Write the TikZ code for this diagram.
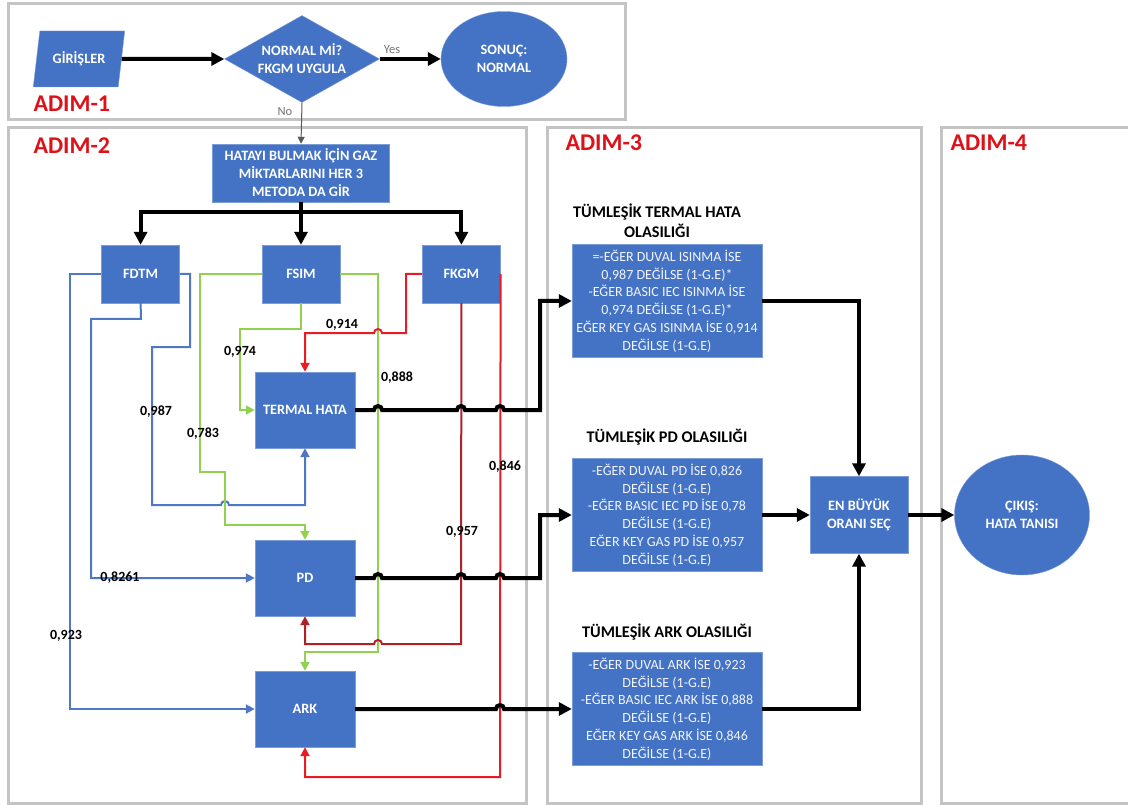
\documentclass[tikz,border=0pt]{standalone}
\usepackage{fontspec}
\setmainfont{Carlito}
\usepackage{tikz}
\usetikzlibrary{shapes.geometric,arrows.meta,positioning,calc}
\definecolor{officeblue}{RGB}{68,114,196}
\definecolor{wireblue}{RGB}{79,120,196}
\definecolor{wiregreen}{RGB}{146,208,80}
\definecolor{wirered}{RGB}{232,28,36}
\definecolor{wiremaroon}{RGB}{178,32,40}
\definecolor{panelgray}{RGB}{196,196,196}
\definecolor{adimred}{RGB}{222,16,24}
\tikzset{
  fbox/.style={draw=officeblue!70!white,fill=officeblue,text=white,align=center,
               font=\fontsize{14.3}{18}\selectfont\bfseries,inner sep=0pt},
  dbox/.style={draw=officeblue!70!white,fill=officeblue,text=white!93!officeblue,align=center,
               font=\fontsize{14}{17.8}\selectfont,inner sep=0pt,
               minimum width=190pt,minimum height=113pt},
  ttl/.style={align=center,font=\fontsize{16.3}{20}\selectfont\bfseries},
  adim/.style={text=adimred,anchor=west,font=\fontsize{24}{27}\selectfont\bfseries},
  val/.style={font=\fontsize{14}{16}\selectfont\bfseries,inner sep=1pt},
  yn/.style={text=black!55,font=\fontsize{12.5}{14}\selectfont},
  panel/.style={draw=panelgray,line width=3pt},
  arr/.style={-{Triangle[length=13pt,width=13pt]},line width=4pt},
  wire/.style={-{Triangle[length=9pt,width=9pt]},line width=2pt},
}

\begin{document}
\begin{tikzpicture}[x=1pt,y=-1pt]
  \useasboundingbox (0,0) rectangle (1128,805);
  % panels
  \draw[panel] (8,4) rectangle (625,120);
  \draw[panel] (8,128) rectangle (526,803);
  \draw[panel] (547,128) rectangle (921,803);
  \draw[panel] (941,128) rectangle (1140,803);
  \node[adim] (adim1) at (30,104) {ADIM-1};
  \node[adim] (adim2) at (30,146) {ADIM-2};
  \node[adim] (adim3) at (562,143) {ADIM-3};
  \node[adim] (adim4) at (947,143) {ADIM-4};

  % ADIM-1
  \node[fbox,trapezium,trapezium left angle=73,trapezium right angle=107,
        trapezium stretches=true,minimum width=92pt,minimum height=56pt] (gir) at (79,59) {GİRİŞLER};
  \node[fbox,diamond,aspect=1.8,minimum width=155pt,minimum height=87pt] (normal) at (302,59)
        {NORMAL Mİ?\\FKGM UYGULA};
  \node[fbox,ellipse,minimum width=126pt,minimum height=95pt] (sonuc) at (504,59)
        {SONUÇ:\\NORMAL};
  \node[yn] (yes) at (392,50) {Yes};
  \node[yn] (no) at (285,112) {No};
  \draw[arr] (gir.east) -- (normal.west);
  \draw[arr] (normal.east) -- (sonuc.west);

  % ADIM-2
  \node[fbox,minimum width=177pt,minimum height=58pt] (hatayi) at (301,173)
        {HATAYI BULMAK İÇİN GAZ\\MİKTARLARINI HER 3\\METODA DA GİR};
  \draw[-{Triangle[length=7pt,width=7pt]},line width=1pt,black!65] (normal.south) -- (hatayi.north);
  \node[fbox,minimum width=78pt,minimum height=58pt] (fsim) at (301,274) {FSIM};
  \node[fbox,minimum width=78pt,minimum height=58pt,left=82pt of fsim] (fdtm) {FDTM};
  \node[fbox,minimum width=78pt,minimum height=58pt,right=82pt of fsim] (fkgm) {FKGM};
  \coordinate (bus) at (301,212);
  \draw[arr] (hatayi.south) -- (fsim.north);
  \draw[arr] (bus) -| (fdtm.north);
  \draw[arr] (bus) -| (fkgm.north);

  \node[fbox,minimum width=100pt,minimum height=76pt] (termal) at (305,410) {TERMAL HATA};
  \node[fbox,minimum width=100pt,minimum height=76pt] (pd) at (305,578) {PD};
  \node[fbox,minimum width=100pt,minimum height=76pt] (ark) at (305,709) {ARK};

  % FDTM
  \draw[wire,wireblue] (fdtm.west) -| (70,709) -- (ark.west);
  \draw[wire,wireblue] (fdtm.south) -- (141,319) -| (91,578) -- (pd.west);
  \draw[wire,wireblue] (fdtm.east) -| (190,347) -| (152,505) -- (221,505)
        arc[start angle=180,end angle=0,radius=4pt] -| (termal.south);
  % FSIM
  \draw[wire,wiregreen] (fsim.west) -| (200,472) -| (225,525) -| (pd.north);
  \draw[wire,wiregreen] (fsim.south) -- (301,329) -| (240,410) -- (termal.west);
  \draw[wire,wiregreen] (fsim.east) -| (378,652) -| (ark.north);
  % FKGM
  \draw[wire,wirered] (fkgm.west) -| (406,333) -- (382,333)
        arc[start angle=0,end angle=180,radius=4pt] -| (termal.north);
  \draw[wire,wiremaroon] (fkgm.south) -- (461,644) -- (382,644)
        arc[start angle=0,end angle=180,radius=4pt] -| (pd.south);
  \draw[wire,wirered] (fkgm.east) -- (500,777) -| (ark.south);

  \node[val] (v987) at (156,412) {0,987};
  \node[val] (v8261) at (120,578) {0,8261};
  \node[val] (v923) at (66,636) {0,923};
  \node[val] (v974) at (240,352) {0,974};
  \node[val] (v783) at (203,434) {0,783};
  \node[val] (v888) at (397,378) {0,888};
  \node[val] (v914) at (342,325) {0,914};
  \node[val] (v957) at (462,532) {0,957};
  \node[val] (v846) at (505,467) {0,846};

  % ADIM-3
  \node[ttl] (t1) at (657,221) {TÜMLEŞİK TERMAL HATA\\OLASILIĞI};
  \node[dbox] (box1) at (667,301) {=-EĞER DUVAL ISINMA İSE\\0,987 DEĞİLSE (1-G.E)*\\
        -EĞER BASIC IEC ISINMA İSE\\0,974 DEĞİLSE (1-G.E)*\\
        EĞER KEY GAS ISINMA İSE 0,914\\DEĞİLSE (1-G.E)};
  \node[ttl] (t2) at (667,437) {TÜMLEŞİK PD OLASILIĞI};
  \node[dbox] (box2) at (667,515) {-EĞER DUVAL PD İSE 0,826\\DEĞİLSE (1-G.E)\\
        -EĞER BASIC IEC PD İSE 0,78\\DEĞİLSE (1-G.E)\\
        EĞER KEY GAS PD İSE 0,957\\DEĞİLSE (1-G.E)};
  \node[ttl] (t3) at (667,632) {TÜMLEŞİK ARK OLASILIĞI};
  \node[dbox] (box3) at (667,709) {-EĞER DUVAL ARK İSE 0,923\\DEĞİLSE (1-G.E)\\
        -EĞER BASIC IEC ARK İSE 0,888\\DEĞİLSE (1-G.E)\\
        EĞER KEY GAS ARK İSE 0,846\\DEĞİLSE (1-G.E)};

  \draw[arr] (termal.east) -- (374,410) arc[start angle=180,end angle=0,radius=4pt]
        -- (457,410) arc[start angle=180,end angle=0,radius=4pt]
        -- (496,410) arc[start angle=180,end angle=0,radius=4pt]
        -- (540,410) |- (box1.west);
  \draw[arr] (pd.east) -- (374,578) arc[start angle=180,end angle=0,radius=4pt]
        -- (457,578) arc[start angle=180,end angle=0,radius=4pt]
        -- (496,578) arc[start angle=180,end angle=0,radius=4pt]
        -- (540,578) |- (box2.west);
  \draw[arr] (ark.east) -- (496,709) arc[start angle=180,end angle=0,radius=4pt]
        -- (box3.west);

  \node[fbox,minimum width=98pt,minimum height=77pt] (secim) at (859,515) {EN BÜYÜK\\ORANI SEÇ};
  \draw[arr] (box1.east) -| (secim.north);
  \draw[arr] (box2.east) -- (secim.west);
  \draw[arr] (box3.east) -| (secim.south);

  % ADIM-4
  \node[fbox,ellipse,minimum width=135pt,minimum height=120pt] (cikis) at (1022,515)
        {ÇIKIŞ:\\HATA TANISI};
  \draw[arr] (secim.east) -- (cikis.west);
\end{tikzpicture}
\end{document}
